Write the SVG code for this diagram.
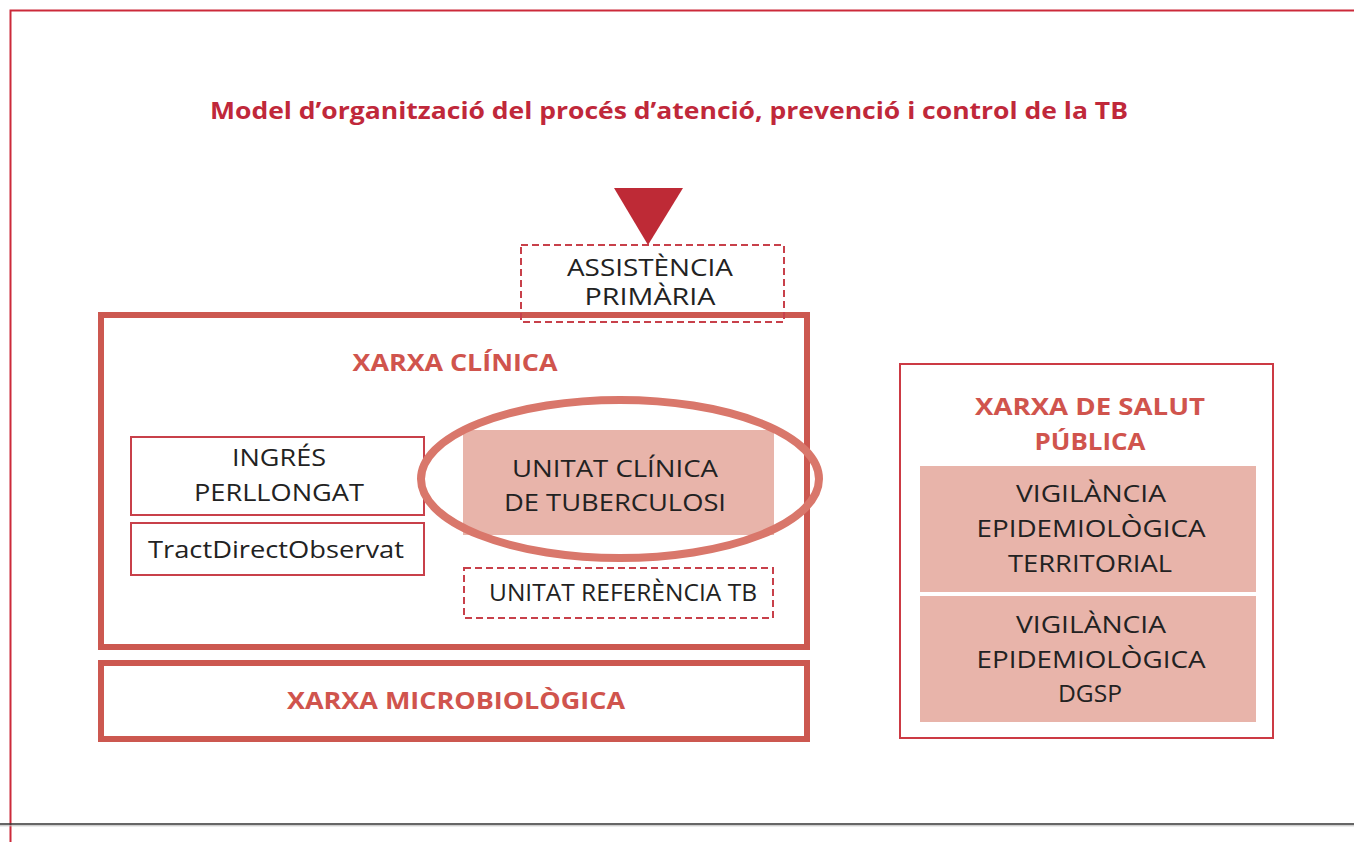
<svg xmlns="http://www.w3.org/2000/svg" width="1354" height="842" viewBox="0 0 1354 842">
<style>
.t{font-family:"Open Sans","Noto Sans",sans-serif;text-anchor:middle}
.dk{fill:#222;font-size:23px}
.hd{fill:#d0544d;font-size:23px;font-weight:bold}
.thick{fill:none;stroke:#cc5850;stroke-width:6}
.thin{fill:#fff;stroke:#c8404a;stroke-width:2}
.dash{fill:none;stroke:#c8404a;stroke-width:2;stroke-dasharray:7 4}
.pink{fill:#e8b4aa}
</style>
<rect width="1354" height="842" fill="#fff"/>
<g id="frame">
<path d="M10.5 842 V10.5 H1354" fill="none" stroke="#cc2a3a" stroke-width="2"/>
<line x1="0" y1="824" x2="1354" y2="824" stroke="#333" stroke-width="1.5"/>
<line x1="0" y1="825.8" x2="1354" y2="825.8" stroke="#bbb" stroke-width="1"/>
</g>
<g id="title"><text class="t" x="669" y="119" fill="#c0283a" font-size="23" font-weight="bold" textLength="918" lengthAdjust="spacingAndGlyphs">Model d’organització del procés d’atenció, prevenció i control de la TB</text></g>
<g id="xarxa-clinica">
<rect class="thick" x="101" y="315" width="706" height="332"/>
<text class="t hd" x="455" y="371" textLength="205" lengthAdjust="spacingAndGlyphs">XARXA CLÍNICA</text>
</g>
<g id="assistencia">
<rect class="dash" x="521" y="245" width="263" height="77"/>
<text class="t dk" x="650" y="276" font-size="19" textLength="166" lengthAdjust="spacingAndGlyphs">ASSISTÈNCIA</text>
<text class="t dk" x="650" y="305" font-size="19" textLength="131" lengthAdjust="spacingAndGlyphs">PRIMÀRIA</text>
</g>
<g id="connectors">
<polygon points="614,188 683,188 648,245" fill="#be2a36"/>
</g>
<g id="ingres">
<rect class="thin" x="131" y="437" width="293" height="78"/>
<text class="t dk" x="279" y="466" textLength="94" lengthAdjust="spacingAndGlyphs">INGRÉS</text>
<text class="t dk" x="279" y="501" textLength="170" lengthAdjust="spacingAndGlyphs">PERLLONGAT</text>
</g>
<g id="tdo">
<rect class="thin" x="131" y="523" width="293" height="52"/>
<text class="t dk" x="276" y="558" textLength="256" lengthAdjust="spacingAndGlyphs">TractDirectObservat</text>
</g>
<g id="unitat-clinica">
<rect class="pink" x="463" y="430" width="311" height="105"/>
<text class="t dk" x="615" y="477" textLength="206" lengthAdjust="spacingAndGlyphs">UNITAT CLÍNICA</text>
<text class="t dk" x="615" y="511" textLength="222" lengthAdjust="spacingAndGlyphs">DE TUBERCULOSI</text>
<ellipse cx="620" cy="479" rx="199" ry="79" fill="none" stroke="#d9776b" stroke-width="8"/>
</g>
<g id="unitat-ref">
<rect class="dash" x="464" y="568" width="309" height="50"/>
<text class="t dk" x="623" y="601" font-size="20" textLength="268" lengthAdjust="spacingAndGlyphs">UNITAT REFERÈNCIA TB</text>
</g>
<g id="microbio">
<rect class="thick" x="101" y="663" width="706" height="76"/>
<text class="t hd" x="456" y="709" textLength="338" lengthAdjust="spacingAndGlyphs">XARXA MICROBIOLÒGICA</text>
</g>
<g id="salut-publica">
<rect x="900" y="364" width="373" height="374" fill="none" stroke="#cc3a44" stroke-width="2"/>
<text class="t hd" x="1090" y="415" textLength="230" lengthAdjust="spacingAndGlyphs">XARXA DE SALUT</text>
<text class="t hd" x="1090" y="450" textLength="111" lengthAdjust="spacingAndGlyphs">PÚBLICA</text>
</g>
<g id="vig-territorial">
<rect class="pink" x="920" y="466" width="336" height="126"/>
<text class="t dk" x="1091" y="502" textLength="150" lengthAdjust="spacingAndGlyphs">VIGILÀNCIA</text>
<text class="t dk" x="1091" y="537" textLength="229" lengthAdjust="spacingAndGlyphs">EPIDEMIOLÒGICA</text>
<text class="t dk" x="1090" y="572" textLength="164" lengthAdjust="spacingAndGlyphs">TERRITORIAL</text>
</g>
<g id="vig-dgsp">
<rect class="pink" x="920" y="596" width="336" height="126"/>
<text class="t dk" x="1091" y="633" textLength="150" lengthAdjust="spacingAndGlyphs">VIGILÀNCIA</text>
<text class="t dk" x="1091" y="668" textLength="229" lengthAdjust="spacingAndGlyphs">EPIDEMIOLÒGICA</text>
<text class="t dk" x="1090" y="702" textLength="64" lengthAdjust="spacingAndGlyphs">DGSP</text>
</g>
</svg>
